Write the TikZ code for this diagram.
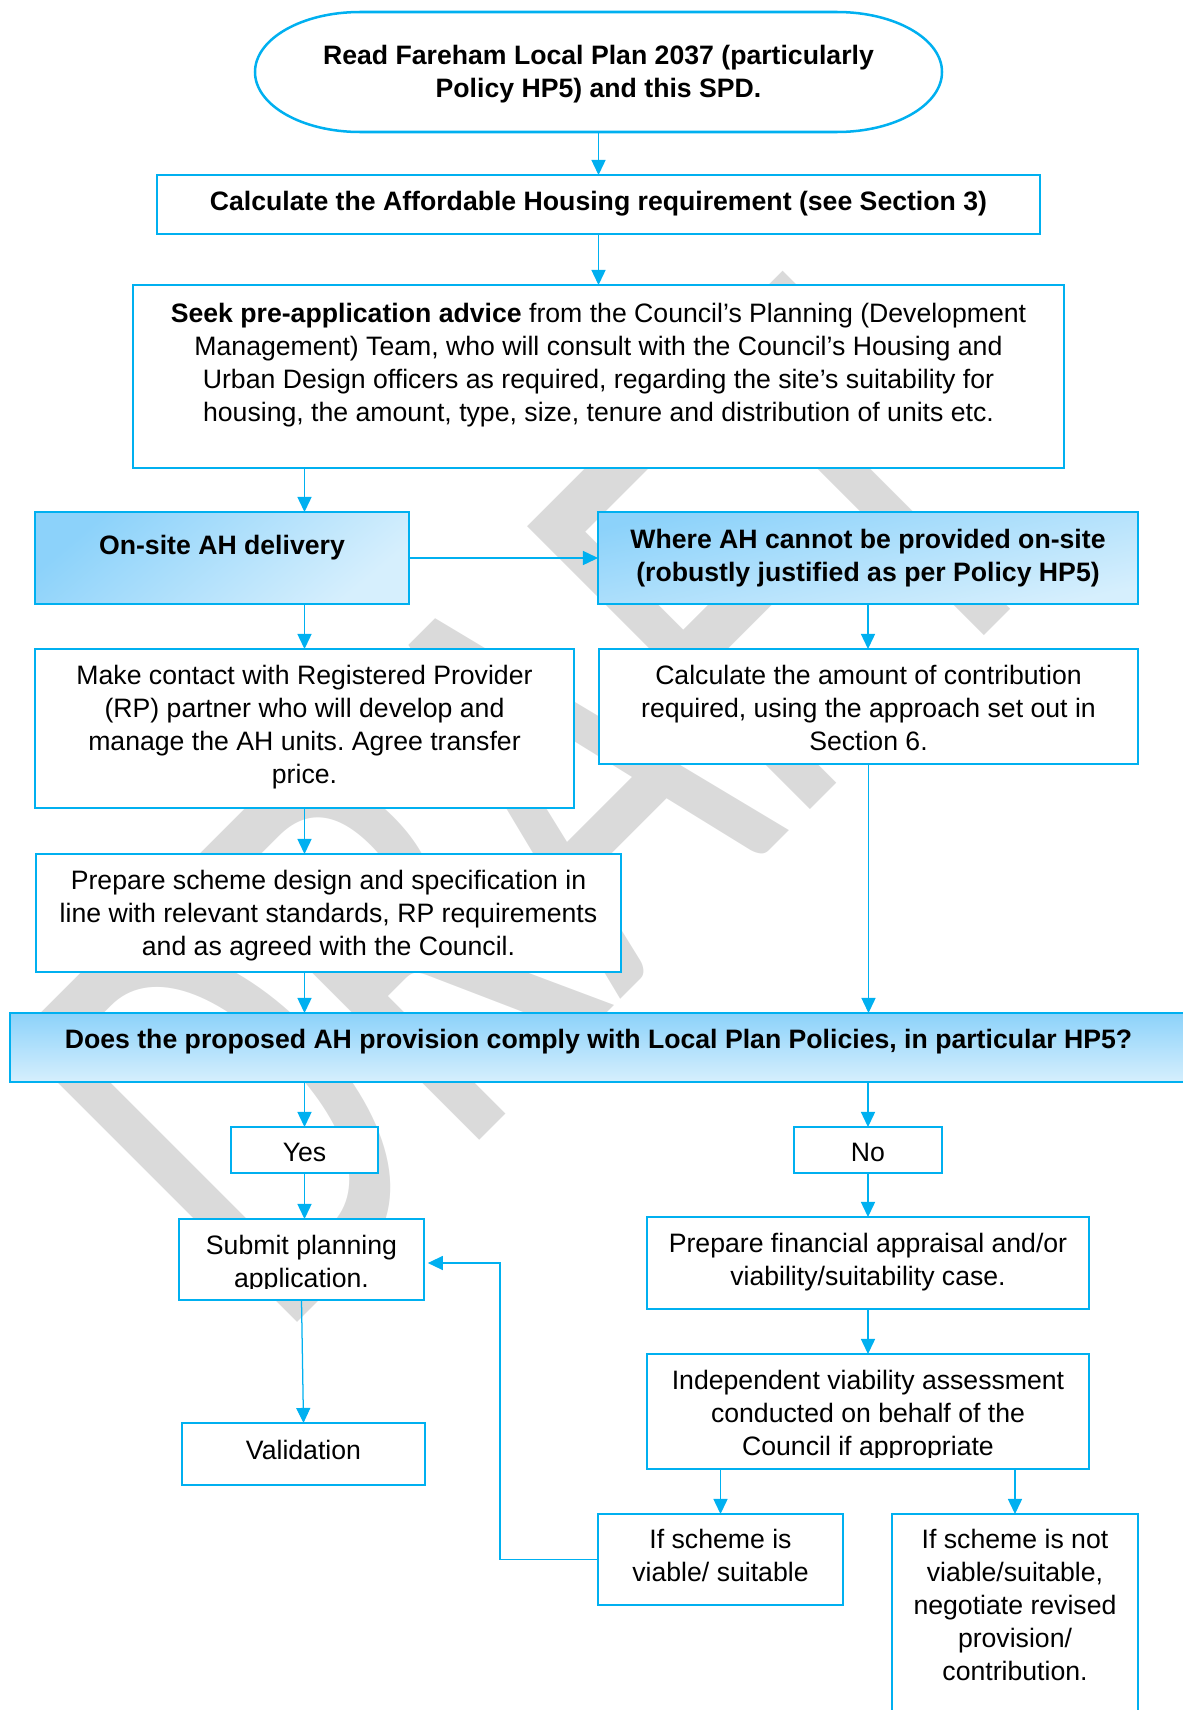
\documentclass[tikz,border=0pt]{standalone}
\usepackage{fontspec}
\usepackage{graphicx}
\setmainfont{Liberation Sans}
\newfontfamily\wmfont{Carlito}
\usetikzlibrary{arrows.meta,calc}
\definecolor{cyanline}{RGB}{0,176,240}
\definecolor{gradtop}{RGB}{140,210,250}
\definecolor{gradbot}{RGB}{214,239,253}
\definecolor{wmgray}{RGB}{218,218,218}
\frenchspacing
\newdimen\pxu \pxu=0.518pt
\newcommand\boxtext[4]{\parbox[c][#2\pxu][t]{#1\pxu}{\centering\rule{0pt}{#3\pxu}#4\par}}
\tikzset{
  box/.style={draw=cyanline, line width=1.3pt, fill=white, inner sep=0pt, outer sep=0pt,
    font=\fontsize{13.8}{17.1}\selectfont},
  hbox/.style={box, top color=gradtop, bottom color=gradbot},
  conn/.style={draw=cyanline, line width=0.65pt},
  arr/.style={conn, -{Triangle[length=7.8pt,width=7.3pt]}},
  cutoff/.style={fill=white, draw=none},
}
\begin{document}
\begin{tikzpicture}[x=0.518pt, y=-0.518pt]
\useasboundingbox (0,0) rectangle (1183,1710);
% watermark
\node[anchor=base west, rotate=45, inner sep=0pt, text=wmgray,
  font=\wmfont\fontsize{323}{323}\selectfont] (wm) at (277,1343) {\scalebox{0.67}[1]{DRAFT}};

% start terminator
\node[inner sep=0pt, outer sep=0pt, font=\fontsize{13.8}{17.1}\selectfont] (start) at (598.5,72)
  {\boxtext{687}{120}{52.7}{\bfseries Read Fareham Local Plan 2037 (particularly\\Policy HP5) and this SPD.}};
\draw[draw=cyanline, line width=1.3pt]
  ($(start.north west)+(105,0)$) -- ($(start.north east)+(-105,0)$)
  arc[start angle=-90, end angle=90, x radius=105, y radius=60]
  -- ($(start.south west)+(105,0)$)
  arc[start angle=90, end angle=270, x radius=105, y radius=60] -- cycle;

\node[box] (calc) at (598.5,204.5)
  {\boxtext{883}{59}{35.5}{\bfseries Calculate the Affordable Housing requirement (see Section 3)}};
\node[box] (seek) at (598.5,376.5)
  {\boxtext{931}{183}{37.5}{\textbf{Seek pre-application advice} from the Council’s Planning (Development\\Management) Team, who will consult with the Council’s Housing and\\Urban Design officers as required, regarding the site’s suitability for\\housing, the amount, type, size, tenure and distribution of units etc.}};
\node[hbox, shading angle=40] (onsite) at (222,558)
  {\boxtext{374}{92}{42}{\bfseries On-site AH delivery}};
\node[hbox, shading angle=12] (where) at (868,558)
  {\boxtext{540}{92}{36.5}{\bfseries Where AH cannot be provided on-site\\(robustly justified as per Policy HP5)}};
\node[box] (contact) at (304.5,728.5)
  {\boxtext{539}{159}{35.5}{Make contact with Registered Provider\\(RP) partner who will develop and\\manage the AH units. Agree transfer\\price.}};
\node[box] (amount) at (868.5,706.5)
  {\boxtext{539}{115}{35.5}{Calculate the amount of contribution\\required, using the approach set out in\\Section 6.}};
\node[box] (design) at (328.5,913)
  {\boxtext{585}{118}{35.5}{Prepare scheme design and specification in\\line with relevant standards, RP requirements\\and as agreed with the Council.}};
\node[hbox] (does) at (598.5,1047.5)
  {\boxtext{1177}{69}{35.5}{\bfseries Does the proposed AH provision comply with Local Plan Policies, in particular HP5?}};
\node[box] (yes) at (304.5,1150) {\boxtext{147}{46}{34.5}{Yes}};
\node[box] (no) at (868,1150) {\boxtext{148}{46}{34.5}{No}};
\node[box] (submit) at (301.5,1259.5)
  {\boxtext{245}{81}{35.5}{Submit planning\\application.}};
\fill[cutoff] ($(submit.south west)+(2.5,-1.5)$) rectangle ($(submit.south east)+(-2.5,-11.5)$);
\node[box] (valid) at (303.5,1454) {\boxtext{243}{62}{36.5}{Validation}};
\node[box] (fin) at (868,1263)
  {\boxtext{442}{92}{35.5}{Prepare financial appraisal and/or\\viability/suitability case.}};
\node[box] (indep) at (868,1411.5)
  {\boxtext{442}{115}{35.5}{Independent viability assessment\\conducted on behalf of the\\Council if appropriate}};
\fill[cutoff] ($(indep.south west)+(2.5,-1.5)$) rectangle ($(indep.south east)+(-2.5,-11)$);
\node[box] (viable) at (720.5,1559.5)
  {\boxtext{245}{91}{34.5}{If scheme is\\viable/ suitable}};
\node[box] (notviable) at (1015,1617)
  {\boxtext{246}{206}{34.5}{If scheme is not\\viable/suitable,\\negotiate revised\\provision/\\contribution.}};

% connectors
\draw[arr] (start.south) -- (calc.north);
\draw[arr] (calc.south) -- (seek.north);
\draw[arr] (seek.south -| contact.north) -- (onsite.north -| contact.north);
\draw[arr] (onsite.east) -- (where.west);
\draw[arr] (onsite.south -| contact.north) -- (contact.north);
\draw[arr] (where.south) -- (amount.north -| where.south);
\draw[arr] (contact.south) -- (design.north -| contact.south);
\draw[arr] (design.south -| contact.south) -- (does.north -| contact.south);
\draw[arr] (amount.south) -- (does.north -| amount.south);
\draw[arr] (does.south -| yes.north) -- (yes.north);
\draw[arr] (does.south -| no.north) -- (no.north);
\draw[arr] (yes.south) -- (submit.north -| yes.south);
\draw[arr] (no.south) -- (fin.north -| no.south);
\draw[arr] (submit.south) -- (valid.north);
\draw[arr] (fin.south) -- (indep.north);
\draw[arr] (indep.south -| viable.north) -- (viable.north);
\draw[arr] (indep.south -| notviable.north) -- (notviable.north);
\coordinate (fb) at (500,1263);
\draw[arr, shorten >=2pt] (viable.west) -| (fb) -- (fb -| submit.east);
\end{tikzpicture}
\end{document}
